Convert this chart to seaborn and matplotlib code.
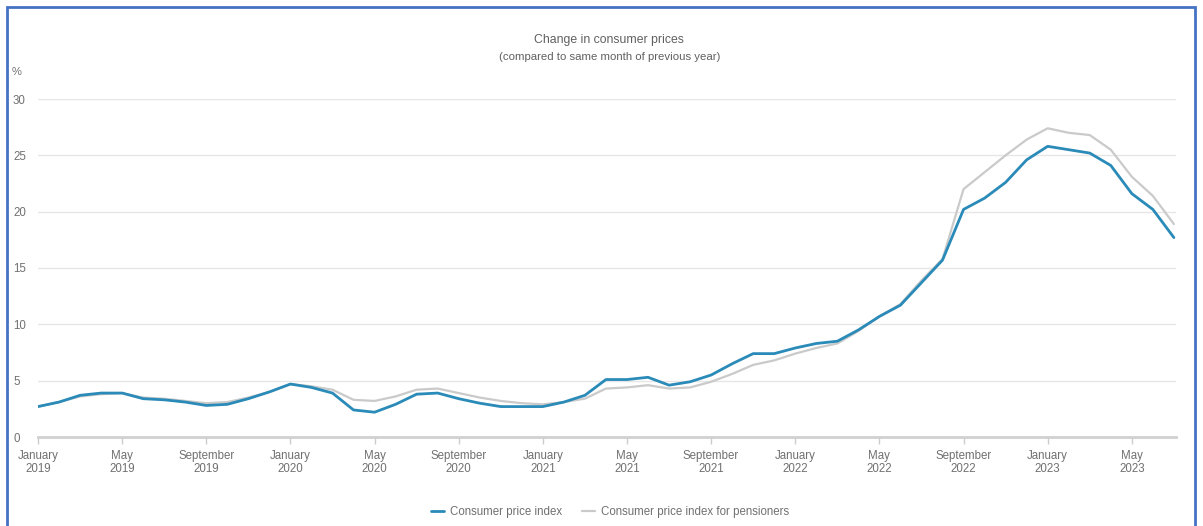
import numpy as np
import pandas as pd
import matplotlib
matplotlib.use("Agg")
import matplotlib.pyplot as plt
import seaborn as sns
from matplotlib.patches import Rectangle
from matplotlib.lines import Line2D

# ---- data (monthly, Jan 2019 .. Jul 2023) ----
cpi = [2.7, 3.1, 3.7, 3.9, 3.9, 3.4, 3.3, 3.1, 2.8, 2.9, 3.4, 4.0,
       4.7, 4.4, 3.9, 2.4, 2.2, 2.9, 3.8, 3.9, 3.4, 3.0, 2.7, 2.7,
       2.7, 3.1, 3.7, 5.1, 5.1, 5.3, 4.6, 4.9, 5.5, 6.5, 7.4, 7.4,
       7.9, 8.3, 8.5, 9.5, 10.7, 11.7, 13.7, 15.7, 20.2, 21.2, 22.6, 24.6,
       25.8, 25.5, 25.2, 24.1, 21.6, 20.2, 17.7]
pensioners = [2.7, 3.1, 3.6, 3.8, 3.9, 3.5, 3.4, 3.2, 3.0, 3.1, 3.5, 4.0,
              4.7, 4.5, 4.2, 3.3, 3.2, 3.6, 4.2, 4.3, 3.9, 3.5, 3.2, 3.0,
              2.9, 3.1, 3.4, 4.3, 4.4, 4.6, 4.3, 4.4, 4.9, 5.6, 6.4, 6.8,
              7.4, 7.9, 8.3, 9.4, 10.7, 11.8, 13.9, 15.8, 22.0, 23.5, 25.0, 26.4,
              27.4, 27.0, 26.8, 25.5, 23.1, 21.4, 18.9]
series_names = ["Consumer price index", "Consumer price index for pensioners"]
tick_labels = ["January\n2019", "May\n2019", "September\n2019",
               "January\n2020", "May\n2020", "September\n2020",
               "January\n2021", "May\n2021", "September\n2021",
               "January\n2022", "May\n2022", "September\n2022",
               "January\n2023", "May\n2023"]
y_ticks = [0, 5, 10, 15, 20, 25, 30]

months = np.arange(len(cpi))
df = pd.DataFrame({
    "month": np.concatenate([months, months]),
    "value": cpi + pensioners,
    "series": [series_names[0]] * len(cpi) + [series_names[1]] * len(pensioners),
})

sns.set_theme(style="white")
plt.rcParams["font.family"] = ["Liberation Sans", "DejaVu Sans"]

W, H = 1203, 526
fig = plt.figure(figsize=(W / 100, H / 100), dpi=100)
ax = fig.add_axes([38 / W, 1 - 437 / H, (1176 - 38) / W, (437 - 99) / H])

palette = {series_names[0]: "#2a8ab8", series_names[1]: "#cacaca"}
sns.lineplot(data=df[df.series == series_names[1]], x="month", y="value", hue="series",
             palette=palette, linewidth=1.6, ax=ax, legend=False, zorder=2)
sns.lineplot(data=df[df.series == series_names[0]], x="month", y="value", hue="series",
             palette=palette, linewidth=2.0, ax=ax, legend=False, zorder=3)

ax.set_xlim(0, 54.1)
ax.set_ylim(0, 30)
ax.set_yticks(y_ticks)
ax.set_yticklabels([str(v) for v in y_ticks])
ax.set_xticks(np.arange(0, len(tick_labels) * 4, 4))
ax.set_xticklabels(tick_labels)
ax.set_xlabel("")
ax.set_ylabel("")

for v in y_ticks[1:]:
    ax.axhline(v, color="#e6e6e6", lw=1.0, zorder=1)

for s in ["top", "right", "left"]:
    ax.spines[s].set_visible(False)
ax.spines["bottom"].set_color("#d0d0d0")
ax.spines["bottom"].set_linewidth(2.0)

ax.tick_params(axis="x", which="major", length=5, width=1, color="#cccccc",
               labelsize=8.3, labelcolor="#707070", pad=4, bottom=True)
ax.tick_params(axis="y", length=0, labelsize=8.3, labelcolor="#707070", pad=18)
for lbl in ax.get_yticklabels():
    lbl.set_horizontalalignment("left")

# titles
fig.text(609 / W, 1 - 40 / H, "Change in consumer prices", ha="center", va="center",
         fontsize=8.8, color="#606060")
fig.text(610 / W, 1 - 57 / H, "(compared to same month of previous year)", ha="center",
         va="center", fontsize=8.2, color="#606060")
fig.text(12 / W, 1 - 72 / H, "%", ha="left", va="center", fontsize=8, color="#707070")

# legend
handles = [Line2D([], [], color=palette[series_names[0]], lw=2.0),
           Line2D([], [], color=palette[series_names[1]], lw=1.6)]
fig.legend(handles, series_names, loc="center", bbox_to_anchor=(610 / W, 1 - 512 / H),
           ncol=2, frameon=False, fontsize=8.3, handlelength=1.1, handletextpad=0.5,
           columnspacing=1.8, labelcolor="#707070")

# blue frame around the figure
fig.patches.append(Rectangle((7 / W, -0.05), (1195 - 7) / W, 1 - 7 / H + 0.05,
                             transform=fig.transFigure, fill=False,
                             edgecolor="#4472c4", lw=2.0))

fig.savefig("out.png", dpi=100, facecolor="white")
